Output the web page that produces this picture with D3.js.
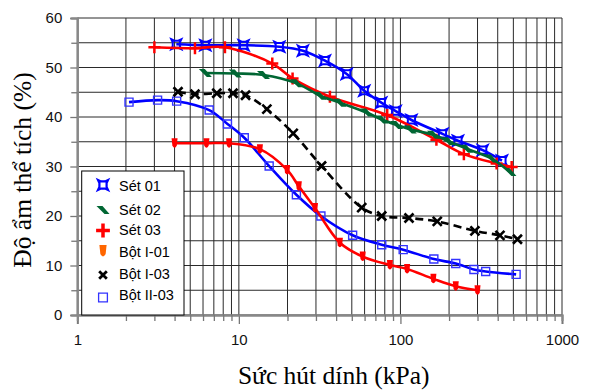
<!DOCTYPE html>
<html>
<head>
<meta charset="utf-8">
<script src="https://cdn.jsdelivr.net/npm/d3@7/dist/d3.min.js"></script>
<style>
  html, body { margin: 0; padding: 0; background: #fff; }
  svg { display: block; }
</style>
</head>
<body>
<svg id="chart" width="594" height="392"></svg>
<script>
// Soil-water retention measurements: suction (kPa) vs volumetric water content (%)
const seriesNames = ["Sét 01", "Sét 02", "Sét 03", "Bột I-01", "Bột I-03", "Bột II-03"];

const set01Suction  = [4.1, 6.2, 10.7, 17.8, 24.9, 34.1, 46.5, 59.7, 76.1, 93.4, 117, 182, 227, 323, 425];
const set01Moisture = [54.7, 54.5, 54.5, 54.2, 53.4, 51.4, 48.7, 45.3, 42.9, 41.2, 39.4, 36.6, 35.2, 33.3, 31.2];

const set02Suction  = [6.2, 9.5, 14.2, 22.8, 31.8, 42.2, 61.8, 76.6, 94.8, 115, 160, 198, 257, 366, 476];
const set02Moisture = [48.9, 48.8, 48.5, 46.8, 44.3, 42.9, 40.9, 39.5, 38.4, 37.5, 36.4, 35.1, 33.6, 31.6, 28.9];

const set03Suction  = [3.0, 5.35, 8.2, 16.1, 21.5, 36.6, 82.8, 167, 247, 394, 488];
const set03Moisture = [54.1, 53.9, 54.1, 50.8, 47.8, 44.1, 40.4, 35.4, 32.5, 30.6, 29.9];

const botI01Suction  = [4.0, 6.3, 8.7, 13.5, 19.9, 23.5, 29.6, 42.2, 58.4, 86.1, 110, 160, 220, 300];
const botI01Moisture = [34.7, 34.7, 34.7, 33.5, 29.3, 26.0, 21.6, 14.6, 11.8, 10.1, 9.3, 7.3, 5.8, 5.0];

const botI03Suction  = [4.2, 5.35, 7.3, 9.2, 11.0, 14.9, 21.7, 32.5, 57.6, 76.6, 113, 169, 289, 413, 530];
const botI03Moisture = [45.1, 44.6, 44.8, 44.8, 44.4, 41.6, 36.7, 30.1, 21.7, 20.0, 19.6, 18.9, 17.0, 16.1, 15.3];

const botII03Suction  = [2.09, 3.14, 4.12, 6.55, 8.5, 10.8, 15.4, 22.7, 32.2, 50.6, 76.6, 104, 161, 220, 285, 337, 520];
const botII03Moisture = [43.0, 43.4, 43.2, 41.4, 38.6, 35.8, 30.1, 24.3, 20.0, 16.1, 14.2, 13.2, 11.3, 10.4, 9.2, 8.8, 8.2];

const yTickValues = [0, 10, 20, 30, 40, 50, 60];
const xTickValues = [1, 10, 100, 1000];
const xTickLabels = ["1", "10", "100", "1000"];

const svg = d3.select("#chart");
const x = d3.scaleLog().domain([1, 1000]).range([77.3, 562]);
const y = d3.scaleLinear().domain([0, 60]).range([315, 18]);

// marker shapes
const markerPaths = {
  star: "M-5,-5 L-2,-3.6 L2,-3.6 L5,-5 L3.6,-2 L3.6,2 L5,5 L2,3.6 L-2,3.6 L-5,5 L-3.6,2 L-3.6,-2 Z",
  slant: "M-6.5,-4 L-0.5,-4 L6.5,4 L1.5,4 Z",
  plus: "M-6,0 L6,0 M0,-6 L0,6",
  drop: "M-3,-5 L3,-5 L2.2,2.5 Q0,6.5 -2.2,2.5 Z",
  cross: "M-4.5,-4.5 L4.5,4.5 M-4.5,4.5 L4.5,-4.5",
  square: "M-4,-4 L4,-4 L4,4 L-4,4 Z"
};

const series = [
  { name: seriesNames[5], xs: botII03Suction, ys: botII03Moisture, line: "#0000ff", dash: null, marker: "square", mFill: "none", mStroke: "#3333ff", mWidth: 1.4 },
  { name: seriesNames[4], xs: botI03Suction, ys: botI03Moisture, line: "#000000", dash: "8,5", marker: "cross", mFill: "none", mStroke: "#000", mWidth: 2.6 },
  { name: seriesNames[0], xs: set01Suction, ys: set01Moisture, line: "#0000ff", dash: null, marker: "star", mFill: "none", mStroke: "#0000ff", mWidth: 2 },
  { name: seriesNames[2], xs: set03Suction, ys: set03Moisture, line: "#ff0000", dash: null, marker: "plus", mFill: "none", mStroke: "#ff0000", mWidth: 2.5 },
  { name: seriesNames[1], xs: set02Suction, ys: set02Moisture, line: "#006633", dash: null, marker: "slant", mFill: "#006633", mStroke: "none", mWidth: 0 },
  { name: seriesNames[3], xs: botI01Suction, ys: botI01Moisture, line: "#ff0000", dash: null, marker: "drop", mFill: "#ff0000", mStroke: "none", mWidth: 0 }
];

// grid
const grid = svg.append("g").attr("stroke", "#2a2a2a").attr("stroke-width", 1);
for (let v = 0; v <= 60; v += 5) {
  grid.append("line").attr("x1", x(1)).attr("x2", x(1000)).attr("y1", y(v)).attr("y2", y(v));
}
const logGrid = [];
for (let p = 1; p <= 100; p *= 10) for (let d = 1; d <= 9; d++) logGrid.push(d * p);
logGrid.push(1000);
logGrid.forEach(v => {
  grid.append("line").attr("x1", x(v)).attr("x2", x(v)).attr("y1", y(0)).attr("y2", y(60));
});

// axes
const yAxis = d3.axisLeft(y).tickValues(yTickValues).tickSize(7).tickPadding(8).tickFormat(d3.format("d"));
const gy = svg.append("g").attr("transform", `translate(${x(1)},0)`).call(yAxis);
const yMinor = d3.axisLeft(y).tickValues([5, 15, 25, 35, 45, 55]).tickSize(6).tickFormat("");
const gyMinor = svg.append("g").attr("transform", `translate(${x(1)},0)`).call(yMinor);

const xAxis = d3.axisBottom(x).tickValues(xTickValues).tickSize(9).tickPadding(10)
  .tickFormat((d, i) => xTickLabels[i]);
const gx = svg.append("g").attr("transform", `translate(0,${y(0)})`).call(xAxis);
const xMinor = d3.axisBottom(x).tickValues(logGrid.filter(v => !xTickValues.includes(v))).tickSize(6).tickFormat("");
const gxMinor = svg.append("g").attr("transform", `translate(0,${y(0)})`).call(xMinor);

[gy, gyMinor, gx, gxMinor].forEach(g => {
  g.select(".domain").attr("stroke", "#888").attr("stroke-width", 2);
  g.selectAll(".tick line").attr("stroke", "#777").attr("stroke-width", 1.3);
  g.selectAll("text").attr("font-family", "Arial, 'Liberation Sans', sans-serif")
    .attr("font-size", 15).attr("fill", "#111");
});

// data series
const lineGen = d3.line().curve(d3.curveCatmullRom.alpha(0.5));
const plot = svg.append("g");
series.forEach(s => {
  const pts = s.xs.map((v, i) => [x(v), y(s.ys[i])]);
  plot.append("path").attr("d", lineGen(pts)).attr("fill", "none")
    .attr("stroke", s.line).attr("stroke-width", 2.6)
    .attr("stroke-dasharray", s.dash);
  plot.append("g").selectAll("path").data(pts).join("path")
    .attr("transform", d => `translate(${d[0]},${d[1]})`)
    .attr("d", markerPaths[s.marker])
    .attr("fill", s.mFill).attr("stroke", s.mStroke).attr("stroke-width", s.mWidth);
});

// legend
const legend = svg.append("g");
legend.append("rect").attr("x", 81.7).attr("y", 171).attr("width", 102.3).attr("height", 144)
  .attr("fill", "#fff").attr("stroke", "#000").attr("stroke-width", 1);
const legendItems = [
  { label: seriesNames[0], marker: "star", fill: "#fff", stroke: "#0000ff", w: 2.2, sy: 185, ty: 190.5, scale: 1 },
  { label: seriesNames[1], marker: "slant", fill: "#006633", stroke: "none", w: 0, sy: 210, ty: 215, scale: 1 },
  { label: seriesNames[2], marker: "plus", fill: "none", stroke: "#ff0000", w: 3.5, sy: 230.5, ty: 235, scale: 1.15 },
  { label: seriesNames[3], marker: "drop", fill: "#ff6600", stroke: "none", w: 0, sy: 251, ty: 256.5, scale: 1.2 },
  { label: seriesNames[4], marker: "cross", fill: "none", stroke: "#000", w: 2.8, sy: 275, ty: 278.5, scale: 0.85 },
  { label: seriesNames[5], marker: "square", fill: "#fff", stroke: "#3333ff", w: 1.3, sy: 297.5, ty: 300, scale: 1.1 }
];
legendItems.forEach(it => {
  legend.append("path").attr("transform", `translate(103,${it.sy}) scale(${it.scale})`)
    .attr("d", markerPaths[it.marker]).attr("fill", it.fill).attr("stroke", it.stroke)
    .attr("stroke-width", it.w / it.scale);
  legend.append("text").attr("x", 119).attr("y", it.ty).text(it.label)
    .attr("font-family", "Arial, 'Liberation Sans', sans-serif").attr("font-size", 14.5).attr("fill", "#000");
});

// axis titles
svg.append("text").attr("x", 333.7).attr("y", 383.5).attr("text-anchor", "middle")
  .attr("font-family", "'Times New Roman', 'Liberation Serif', serif").attr("font-size", 25.5)
  .attr("fill", "#000").text("Sức hút dính (kPa)");
svg.append("text").attr("transform", "translate(31,170) rotate(-90)").attr("text-anchor", "middle")
  .attr("font-family", "'Times New Roman', 'Liberation Serif', serif").attr("font-size", 25.5)
  .attr("fill", "#000").text("Độ ẩm thể tích (%)");
</script>
</body>
</html>
